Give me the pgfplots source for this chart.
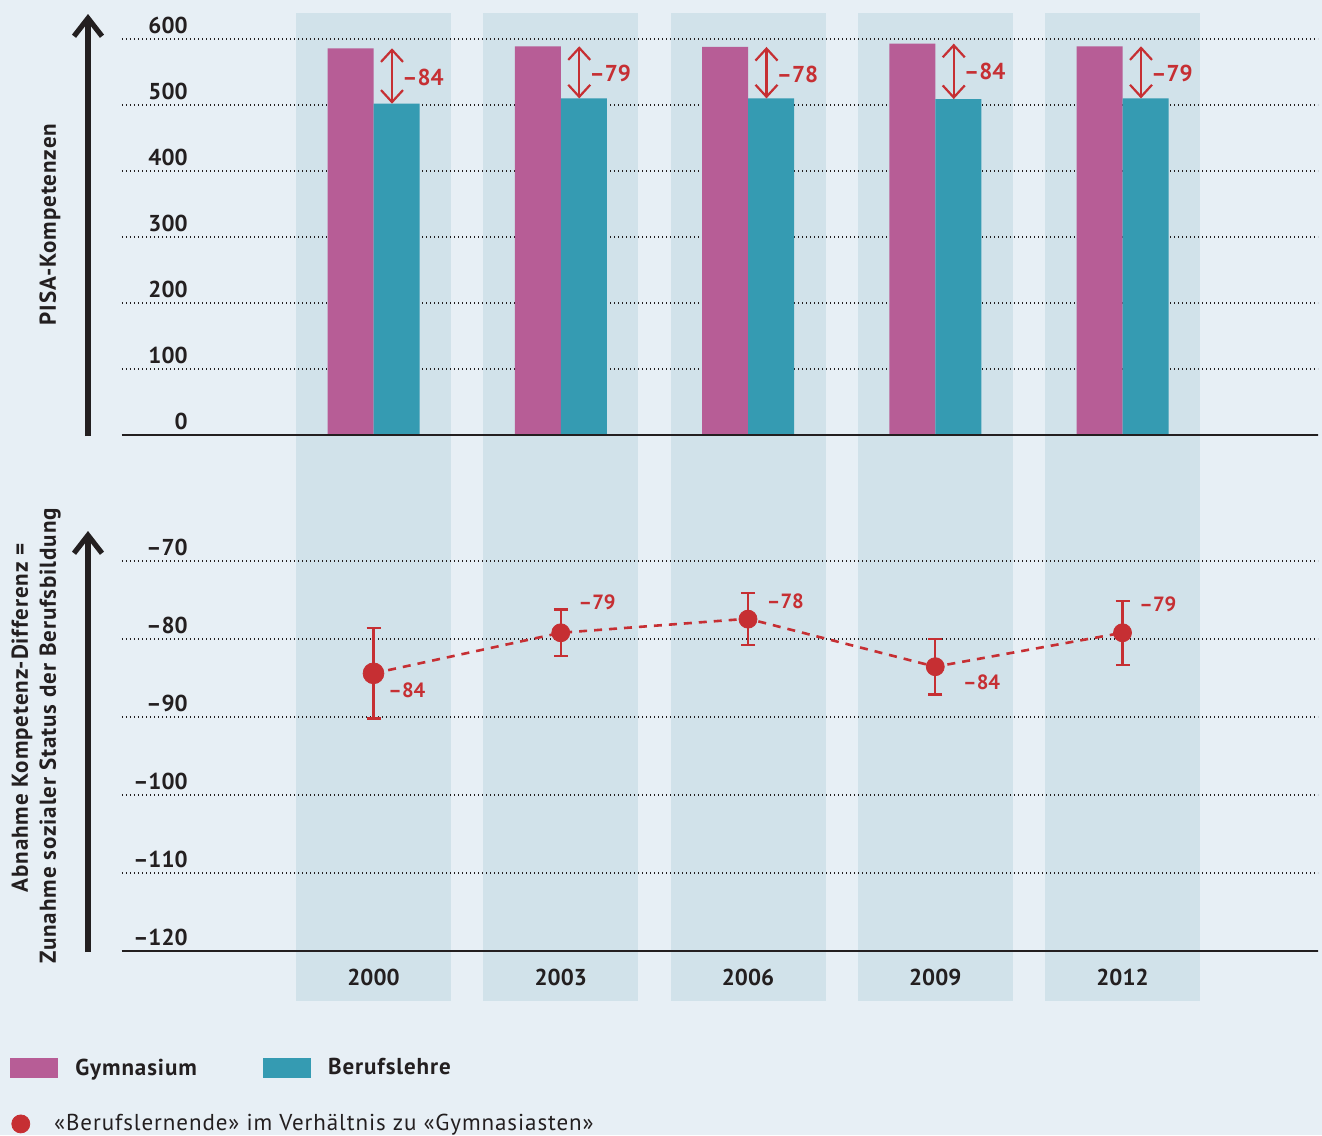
\documentclass[border=0pt]{standalone}
\usepackage{pgfplots}
\pgfplotsset{compat=1.18}
\usepackage{fontspec}
\setmainfont{PT Sans}
\newfontfamily\lsfont{PT Sans}[LetterSpace=4]
\usetikzlibrary{arrows.meta}
\definecolor{bgc}{HTML}{E7EFF5}
\definecolor{bandc}{HTML}{D1E2EA}
\definecolor{gymc}{HTML}{B75D96}
\definecolor{berc}{HTML}{359BB2}
\definecolor{redc}{HTML}{C62F33}
\definecolor{txtc}{HTML}{231F20}
\newcommand\fs{\fontsize{11.5}{13.8}\selectfont}
\newcommand\fss{\fontsize{10.3}{12.4}\selectfont}
\pgfplotsset{
  swatch/.style={legend image code/.code={\fill[#1] (0pt,-4.75pt) rectangle (23.5pt,4.75pt);}},
  common/.style={
    scale only axis, width=598pt,
    xmin=1995.9706, xmax=2015.1322,
    axis line style={draw=none},
    major tick length=0pt,
    ymajorgrids,
    grid style={txtc, line width=0.6pt, dash pattern=on 0.6pt off 1.4pt},
    yticklabel style={anchor=base east, inner sep=0pt, xshift=33pt, yshift=3pt, font=\bfseries\fs, text=txtc},
    clip=false,
  },
}
\tikzset{
  diffarr/.style={redc, line width=1.1pt, {Straight Barb[length=6pt,width=11pt]}-{Straight Barb[length=6pt,width=11pt]}},
  difflab/.style={text=redc, inner sep=0pt, anchor=west, font=\bfseries\fs},
  difflab2/.style={text=redc, inner sep=0pt, anchor=west, font=\bfseries\fss},
}
\begin{document}
\begin{tikzpicture}
\path[use as bounding box] (0pt,0pt) rectangle (661pt,-567.5pt);
\begin{scope}[x=0.5pt,y=-0.5pt]
\fill[bgc] (0,0) rectangle (1322,1135);
\foreach \c in {373.5,560.75,748,935.25,1122.5} {\fill[bandc] (\c-77.5,13) rectangle (\c+77.5,1001);}
\end{scope}

% ---------- top axis ----------
\begin{axis}[common,
  at={(61pt,-217.5pt)}, anchor=south west, height=198pt,
  ymin=0, ymax=600,
  ytick={0,100,200,300,400,500,600},
  yticklabels={0,100,200,300,400,500,600},
  xtick=\empty,
  legend columns=2, legend cell align=left,
  legend style={at={(-0.0936,-1.5733)}, anchor=north west, draw=none, fill=none, inner sep=0pt, column sep=0pt,
     nodes={inner sep=0pt, text=txtc, font=\lsfont\bfseries\fs}},
]
\addplot[ybar, bar width=23pt, bar shift=-11.5pt, fill=gymc, draw=none, forget plot]
  coordinates {(2000,586) (2003,589) (2006,588) (2009,593) (2012,589)};
\addplot[ybar, bar width=23pt, bar shift=11.5pt, fill=berc, draw=none, forget plot]
  coordinates {(2000,502) (2003,510) (2006,510) (2009,509) (2012,510)};
\draw[txtc, line width=0.6pt] (rel axis cs:0,0) -- (rel axis cs:1,0);

\draw[diffarr] ([xshift=9.25pt]axis cs:2000,586) -- ([xshift=9.25pt]axis cs:2000,502);
\draw[diffarr] ([xshift=9.25pt]axis cs:2003,589) -- ([xshift=9.25pt]axis cs:2003,510);
\draw[diffarr] ([xshift=9.25pt]axis cs:2006,588) -- ([xshift=9.25pt]axis cs:2006,510);
\draw[diffarr] ([xshift=9.25pt]axis cs:2009,593) -- ([xshift=9.25pt]axis cs:2009,509);
\draw[diffarr] ([xshift=9.25pt]axis cs:2012,589) -- ([xshift=9.25pt]axis cs:2012,510);
\node[difflab] at ([xshift=14.25pt]axis cs:2000,542.4) {–84};
\node[difflab] at ([xshift=14.25pt]axis cs:2003,548.5) {–79};
\node[difflab] at ([xshift=14.25pt]axis cs:2006,547) {–78};
\node[difflab] at ([xshift=14.25pt]axis cs:2009,551.5) {–84};
\node[difflab] at ([xshift=14.25pt]axis cs:2012,548.5) {–79};

\addlegendimage{swatch=gymc}
\addlegendentry{\hspace*{8.5pt}\makebox[94pt][l]{Gymnasium}}
\addlegendimage{swatch=berc}
\addlegendentry{\hspace*{8.5pt}Berufslehre}
\end{axis}

% ---------- bottom axis ----------
\begin{axis}[common,
  at={(61pt,-475.5pt)}, anchor=south west, height=195pt,
  ymin=-120, ymax=-70,
  ytick={-120,-110,-100,-90,-80,-70},
  yticklabels={–120,–110,–100,–90,–80,–70},
  xtick={2000,2003,2006,2009,2012},
  xticklabels={2000,2003,2006,2009,2012},
  xticklabel style={anchor=north, inner sep=0pt, yshift=-9pt, font=\bfseries\fs, text=txtc},
  legend cell align=left,
  legend style={at={(-0.0928,-0.4175)}, anchor=north west, draw=none, fill=none, inner sep=0pt,
     nodes={inner sep=0pt, text=txtc, font=\lsfont\fs}},
]
\draw[txtc, line width=0.6pt] (rel axis cs:0,0) -- (rel axis cs:1,0);
\addplot[redc, line width=1.3pt, dash pattern=on 4pt off 3.5pt, forget plot]
  coordinates {(2000,-84.4) (2003,-79.2) (2006,-77.4) (2009,-83.55) (2012,-79.2)};
\addplot[redc, only marks, mark=*, mark size=5.2pt, forget plot,
  error bars/.cd, y dir=both, y explicit,
  error bar style={line width=1.2pt, redc},
  error mark options={rotate=90, mark size=3.5pt, line width=1.2pt, redc}]
  coordinates {(2000,-84.4) +- (0,5.8)};
\addplot[redc, only marks, mark=*, mark size=4.5pt, forget plot,
  error bars/.cd, y dir=both, y explicit,
  error bar style={line width=1.2pt, redc},
  error mark options={rotate=90, mark size=3.5pt, line width=1.2pt, redc}]
  coordinates {(2003,-79.2) +- (0,3.0) (2006,-77.45) +- (0,3.35) (2009,-83.55) +- (0,3.55) (2012,-79.2) +- (0,4.1)};
\node[difflab2] at ([xshift=7.25pt]axis cs:2000,-86.54) {–84};
\node[difflab2] at ([xshift=8.75pt]axis cs:2003,-75.26) {–79};
\node[difflab2] at ([xshift=9.25pt]axis cs:2006,-75.1) {–78};
\node[difflab2] at ([xshift=13.75pt]axis cs:2009,-85.5) {–84};
\node[difflab2] at ([xshift=8.25pt]axis cs:2012,-75.6) {–79};
\addlegendimage{legend image code/.code={\fill[redc] (4.5pt,0pt) circle (4.5pt);}}
\addlegendentry{\hspace*{12pt}«Berufslernende» im Verhältnis zu «Gymnasiasten»}
\end{axis}

% ---------- axis arrows and titles ----------
\begin{scope}[x=0.5pt,y=-0.5pt]
\draw[txtc, line width=2.6pt, -{Straight Barb[length=9pt,width=14pt]}] (88,436) -- (88,14);
\draw[txtc, line width=2.6pt, -{Straight Barb[length=9pt,width=14pt]}] (88,952) -- (88,531);
\node[rotate=90, font=\lsfont\bfseries\fs, text=txtc] at (50,224.5) {PISA-Kompetenzen};
\node[rotate=90, font=\lsfont\bfseries\fs, text=txtc] at (22,718) {Abnahme Kompetenz-Differenz =};
\node[rotate=90, font=\lsfont\bfseries\fs, text=txtc] at (50,736) {Zunahme sozialer Status der Berufsbildung};
\end{scope}
\end{tikzpicture}
\end{document}
